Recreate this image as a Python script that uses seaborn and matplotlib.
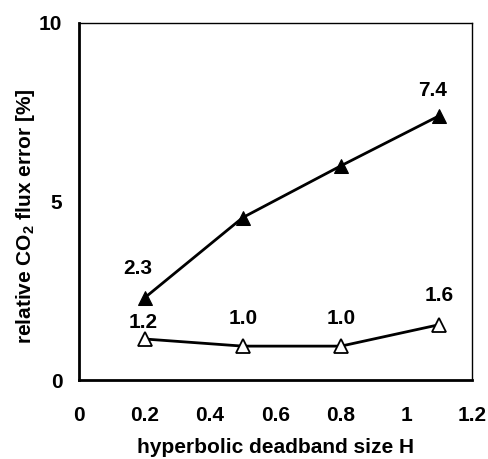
import matplotlib
matplotlib.use("Agg")
import matplotlib.pyplot as plt
import seaborn as sns
import pandas as pd

deadband = [0.2, 0.5, 0.8, 1.1]
filled_vals = [2.3, 4.55, 6.0, 7.4]
open_vals = [1.15, 0.95, 0.95, 1.55]
filled_labels = ["2.3", "", "", "7.4"]
open_labels = ["1.2", "1.0", "1.0", "1.6"]
x_ticks = [0, 0.2, 0.4, 0.6, 0.8, 1.0, 1.2]
x_ticklabels = ["0", "0.2", "0.4", "0.6", "0.8", "1", "1.2"]
y_ticks = [0, 5, 10]

sns.set_style("white")
plt.rcParams['font.family'] = ['Liberation Sans', 'DejaVu Sans']
plt.rcParams['font.weight'] = 'bold'
plt.rcParams['mathtext.fontset'] = 'custom'
plt.rcParams['mathtext.rm'] = 'Liberation Sans:bold'
plt.rcParams['mathtext.bf'] = 'Liberation Sans:bold'
for key in ['text.color', 'axes.labelcolor', 'xtick.color', 'ytick.color']:
    plt.rcParams[key] = 'black'

FS = 15

df_f = pd.DataFrame({"x": deadband, "y": filled_vals})
df_o = pd.DataFrame({"x": deadband, "y": open_vals})

fig = plt.figure(figsize=(4.88, 4.59), dpi=100)
ax = fig.add_axes([0.162, 0.172, 0.805, 0.778])

sns.lineplot(data=df_f, x="x", y="y", ax=ax, color="black", linewidth=2.0,
             marker="^", markersize=10, markerfacecolor="black",
             markeredgecolor="black", zorder=3)
sns.lineplot(data=df_o, x="x", y="y", ax=ax, color="black", linewidth=2.0,
             marker="^", markersize=10, markerfacecolor="white",
             markeredgecolor="black", markeredgewidth=1.3, zorder=3)

filled_offsets = [(-5, 21), None, None, (-5, 18)]
for xv, yv, lab, off in zip(deadband, filled_vals, filled_labels, filled_offsets):
    if lab:
        ax.annotate(lab, (xv, yv), xytext=off, textcoords="offset points",
                    ha="center", va="center", fontsize=FS, fontweight="bold")
open_offsets = [(-1, 12), (0, 20), (0, 20), (0, 21)]
for xv, yv, lab, off in zip(deadband, open_vals, open_labels, open_offsets):
    ax.annotate(lab, (xv, yv), xytext=off, textcoords="offset points",
                ha="center", va="center", fontsize=FS, fontweight="bold")

ax.set_xlim(0, 1.2)
ax.set_ylim(0, 10)
ax.set_xticks(x_ticks)
ax.set_xticklabels(x_ticklabels)
ax.set_yticks(y_ticks)
ax.tick_params(axis="x", length=0, pad=19, labelsize=FS)
ax.tick_params(axis="y", length=0, pad=12, labelsize=FS)
for t in ax.get_xticklabels() + ax.get_yticklabels():
    t.set_fontweight("bold")

ax.set_xlabel("hyperbolic deadband size H", fontsize=FS, fontweight="bold")
ax.set_ylabel(r"relative CO$_{\mathbf{2}}$ flux error [%]", fontsize=FS,
              fontweight="bold")
ax.xaxis.set_label_coords(0.5, -0.19)
ax.xaxis.label.set_va("center")
ax.yaxis.set_label_coords(-0.137, 0.459)
ax.yaxis.label.set_va("center")

for side in ["left", "bottom"]:
    ax.spines[side].set_linewidth(2.0)
    ax.spines[side].set_color("black")
for side in ["top", "right"]:
    ax.spines[side].set_linewidth(1.0)
    ax.spines[side].set_color("black")
    ax.spines[side].set_visible(True)
ax.grid(False)

fig.savefig("out.png", dpi=100)
